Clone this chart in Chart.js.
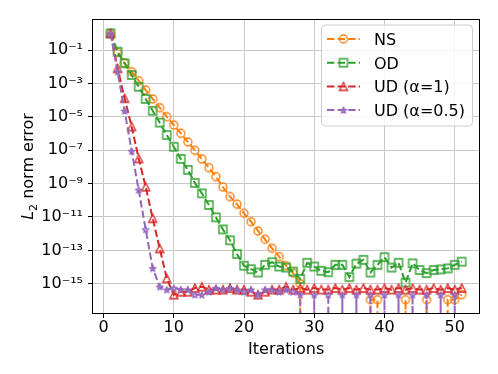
<!DOCTYPE html>
<html>
<head>
<meta charset="utf-8">
<script src="https://cdn.jsdelivr.net/npm/chart.js@4"></script>
<style>
  html, body { margin: 0; padding: 0; background: #fff; }
</style>
</head>
<body>
<canvas id="myChart" width="498" height="374"></canvas>
<script>
// iteration numbers (x) and L2 errors; 0 = exact (drops off the log axis)
const iterations = [1, 2, 3, 4, 5, 6, 7, 8, 9, 10, 11, 12, 13, 14, 15, 16, 17, 18, 19, 20,
    21, 22, 23, 24, 25, 26, 27, 28, 29, 30, 31, 32, 33, 34, 35, 36, 37, 38, 39, 40,
    41, 42, 43, 44, 45, 46, 47, 48, 49, 50, 51]

const nsErr = [1, 7.1e-2, 1.66e-2, 5.0e-3, 1.45e-3, 4.0e-4, 1.17e-4, 3.5e-5, 1.02e-5, 3.2e-6,
    1.02e-6, 3.1e-7, 9.8e-8, 2.95e-8, 8.9e-9, 2.6e-9, 6.2e-10, 1.66e-10, 5.8e-11, 1.66e-11,
    5.2e-12, 1.45e-12, 4.6e-13, 1.32e-13, 4.2e-14, 1.2e-14, 4.3e-15, 1.0e-15, 0, 0,
    0, 0, 0, 0, 0, 0, 0, 1.11e-16, 1.11e-16, 0,
    0, 0, 1.11e-16, 0, 0, 1.11e-16, 0, 0, 1.11e-16, 1.11e-16, 2.22e-16]

const odErr = [1, 7.9e-2, 1.6e-2, 3.2e-3, 6.3e-4, 1.17e-4, 2.3e-5, 4.5e-6, 8.1e-7, 1.6e-7,
    3.0e-8, 6.6e-9, 1.1e-9, 2.6e-10, 5.2e-11, 9.5e-12, 1.8e-12, 4.0e-13, 6.0e-14, 1.2e-14,
    7.4e-15, 4.7e-15, 1.35e-14, 1.95e-14, 1.07e-14, 9.3e-15, 5.4e-15, 1.95e-15, 1.8e-14, 1.07e-14,
    5.9e-15, 4.9e-15, 1.35e-14, 1.35e-14, 2.5e-15, 1.6e-14, 2.7e-14, 4.7e-15, 1.35e-14, 3.9e-14,
    9.3e-15, 1.8e-14, 1.17e-15, 1.66e-14, 6.6e-15, 4.3e-15, 6.6e-15, 7.2e-15, 8.3e-15, 1.35e-14, 2.1e-14]

const ud1Err = [1, 8.0e-3, 1.3e-4, 2.6e-6, 3.2e-8, 6.5e-10, 8.3e-12, 1.3e-13, 2.1e-15, 2.22e-16,
    3.33e-16, 3.33e-16, 5.55e-16, 6.66e-16, 4.44e-16, 4.44e-16, 4.44e-16, 5.55e-16, 4.44e-16, 4.44e-16,
    3.33e-16, 2.22e-16, 3.33e-16, 4.44e-16, 4.44e-16, 6.66e-16, 4.44e-16, 5.55e-16, 4.44e-16, 5.55e-16,
    4.44e-16, 4.44e-16, 5.55e-16, 4.44e-16, 5.55e-16, 4.44e-16, 5.55e-16, 4.44e-16, 4.44e-16, 5.55e-16,
    4.44e-16, 5.55e-16, 4.44e-16, 5.55e-16, 4.44e-16, 4.44e-16, 5.55e-16, 4.44e-16, 5.55e-16, 4.44e-16, 5.55e-16]

const ud05Err = [1, 5.0e-3, 2.3e-5, 9.0e-8, 4.2e-10, 1.8e-12, 8.5e-15, 6.66e-16, 4.44e-16, 5.55e-16,
    4.44e-16, 4.44e-16, 2.22e-16, 2.22e-16, 3.33e-16, 5.55e-16, 4.44e-16, 5.55e-16, 4.44e-16, 3.33e-16,
    4.44e-16, 2.22e-16, 4.44e-16, 4.44e-16, 3.33e-16, 4.44e-16, 3.33e-16, 2.22e-16, 0, 2.22e-16,
    0, 2.22e-16, 0, 2.22e-16, 0, 2.22e-16, 0, 2.22e-16, 0, 2.22e-16,
    0, 2.22e-16, 0, 2.22e-16, 0, 2.22e-16, 0, 2.22e-16, 0, 2.22e-16, 0]

const seriesNames = ['NS', 'OD', 'UD (α=1)', 'UD (α=0.5)']
const xTicks = [0, 10, 20, 30, 40, 50]
const yTickExp = [-1, -3, -5, -7, -9, -11, -13, -15]

const FONT = "'DejaVu Sans', sans-serif"
const colors = ['#ff7f0e', '#2ca02c', '#d62728', '#9467bd']
const shapes = ['circle', 'square', 'triangle', 'star']
const DASH = [7.4, 3.2]

// hollow matplotlib-like markers
let makeMarker = (shape, color) => {
    const c = document.createElement('canvas')
    c.width = 14; c.height = 14
    const g = c.getContext('2d')
    const cx = 7, cy = 7, r = 4
    g.strokeStyle = color
    g.lineWidth = 1.33
    g.beginPath()
    if (shape === 'circle') {
        g.arc(cx, cy, r, 0, Math.PI * 2)
    } else if (shape === 'square') {
        g.rect(cx - r, cy - r, 2 * r, 2 * r)
    } else if (shape === 'triangle') {
        g.moveTo(cx, cy - r); g.lineTo(cx - r, cy + r); g.lineTo(cx + r, cy + r); g.closePath()
    } else {
        g.lineJoin = 'round'
        for (let k = 0; k < 10; k++) {
            const a = -Math.PI / 2 + k * Math.PI / 5
            const rr = k % 2 ? 3.4 * 0.382 : 3.4
            const px = cx + rr * Math.cos(a), py = cy + 0.4 + rr * Math.sin(a)
            k === 0 ? g.moveTo(px, py) : g.lineTo(px, py)
        }
        g.closePath()
    }
    g.stroke()
    return c
}
const markers = shapes.map((s, k) => makeMarker(s, colors[k]))

const supMap = { '-': '⁻', '0': '⁰', '1': '¹', '2': '²', '3': '³', '4': '⁴', '5': '⁵', '6': '⁶', '7': '⁷', '8': '⁸', '9': '⁹' }
let powLabel = (v) => '10' + String(Math.round(Math.log10(v))).split('').map(ch => supMap[ch]).join('')

const seriesValues = [nsErr, odErr, ud1Err, ud05Err]

const decor = {
    id: 'decor',
    afterDatasetsDraw(chart) {
        const ctx = chart.ctx, a = chart.chartArea
        ctx.save()
        ctx.strokeStyle = '#000'
        ctx.lineWidth = 1
        const l = Math.round(a.left), t = Math.round(a.top), r = Math.round(a.right), b = Math.round(a.bottom)
        ctx.strokeRect(l - 0.5, t - 0.5, r - l + 1, b - t + 1)
        ctx.restore()
    },
    afterDraw(chart) {
        const ctx = chart.ctx, a = chart.chartArea
        ctx.save()
        ctx.fillStyle = '#000'

        // x title
        ctx.font = '16px ' + FONT
        ctx.textAlign = 'center'
        ctx.textBaseline = 'alphabetic'
        ctx.fillText('Iterations', (a.left + a.right) / 2, 353.5)

        // y title: italic L, subscript 2
        ctx.save()
        ctx.translate(33, (a.top + a.bottom) / 2)
        ctx.rotate(-Math.PI / 2)
        ctx.textAlign = 'left'
        ctx.font = 'italic 16px ' + FONT
        const wL = ctx.measureText('L').width
        ctx.font = '11px ' + FONT
        const w2 = ctx.measureText('2').width
        ctx.font = '16px ' + FONT
        const wR = ctx.measureText(' norm error').width
        let x0 = -(wL + w2 + wR) / 2
        ctx.font = 'italic 16px ' + FONT
        ctx.fillText('L', x0, 0)
        ctx.font = '11px ' + FONT
        ctx.fillText('2', x0 + wL, 3.5)
        ctx.font = '16px ' + FONT
        ctx.fillText(' norm error', x0 + wL + w2, 0)
        ctx.restore()

        // legend
        const lx = 321.5, ly = 25, lw = 151, lh = 101
        ctx.beginPath()
        if (ctx.roundRect) ctx.roundRect(lx, ly, lw, lh, 4)
        else ctx.rect(lx, ly, lw, lh)
        ctx.fillStyle = 'rgba(255,255,255,0.8)'
        ctx.fill()
        ctx.strokeStyle = '#cccccc'
        ctx.lineWidth = 1
        ctx.stroke()
        seriesNames.forEach((name, k) => {
            const y = 39 + k * 23.7
            ctx.save()
            ctx.strokeStyle = colors[k]
            ctx.lineWidth = 2
            ctx.setLineDash(DASH)
            ctx.beginPath()
            ctx.moveTo(327, y); ctx.lineTo(360, y)
            ctx.stroke()
            ctx.restore()
            ctx.drawImage(markers[k], 343.5 - 7, y - 7)
            ctx.fillStyle = '#000'
            ctx.font = '16px ' + FONT
            ctx.textAlign = 'left'
            ctx.textBaseline = 'alphabetic'
            ctx.fillText(name, 374, y + 5.8)
        })
        ctx.restore()
    }
}

let draw = () => {
    const ctx = document.getElementById('myChart')

    const dataset = {
        datasets: seriesValues.map((vals, k) => ({
            label: seriesNames[k],
            // exact zeros are pushed far below the axis, like matplotlib's log clipping
            data: iterations.map((it, j) => ({ x: it, y: vals[j] > 0 ? vals[j] : 1e-300 })),
            borderColor: colors[k],
            backgroundColor: 'rgba(0,0,0,0)',
            borderWidth: 2,
            borderDash: DASH,
            pointStyle: markers[k],
            pointRadius: 4,
            pointHoverRadius: 4,
            fill: false,
            tension: 0,
            order: 4 - k
        }))
    }

    const config = {
        type: 'line',
        data: dataset,
        options: {
            responsive: false,
            animation: false,
            devicePixelRatio: 1,
            events: [],
            layout: { padding: { left: 0, right: 18.7, top: 20, bottom: 0 } },
            plugins: { legend: { display: false }, tooltip: { enabled: false } },
            scales: {
                x: {
                    type: 'linear',
                    min: -1.5,
                    max: 53.5,
                    afterBuildTicks: (s) => { s.ticks = xTicks.map(v => ({ value: v })) },
                    afterFit: (s) => { s.height = 61 },
                    grid: { color: '#c8c8c8', lineWidth: 1, tickColor: '#000', tickLength: 5, tickWidth: 1 },
                    border: { display: false },
                    ticks: { color: '#000', font: { family: FONT, size: 16 }, padding: 0, maxRotation: 0 }
                },
                y: {
                    type: 'logarithmic',
                    min: Math.pow(10, -16.753),
                    max: Math.pow(10, 0.798),
                    afterBuildTicks: (s) => { s.ticks = yTickExp.map(e => ({ value: Math.pow(10, e) })) },
                    afterFit: (s) => { s.width = 93 },
                    grid: { color: '#c8c8c8', lineWidth: 1, tickColor: '#000', tickLength: 5, tickWidth: 1 },
                    border: { display: false },
                    ticks: { color: '#000', font: { family: FONT, size: 16 }, padding: 5, callback: (v) => powLabel(v) }
                }
            }
        },
        plugins: [decor]
    }

    const chart = new Chart(ctx, config)
}

draw()
</script>
</body>
</html>
